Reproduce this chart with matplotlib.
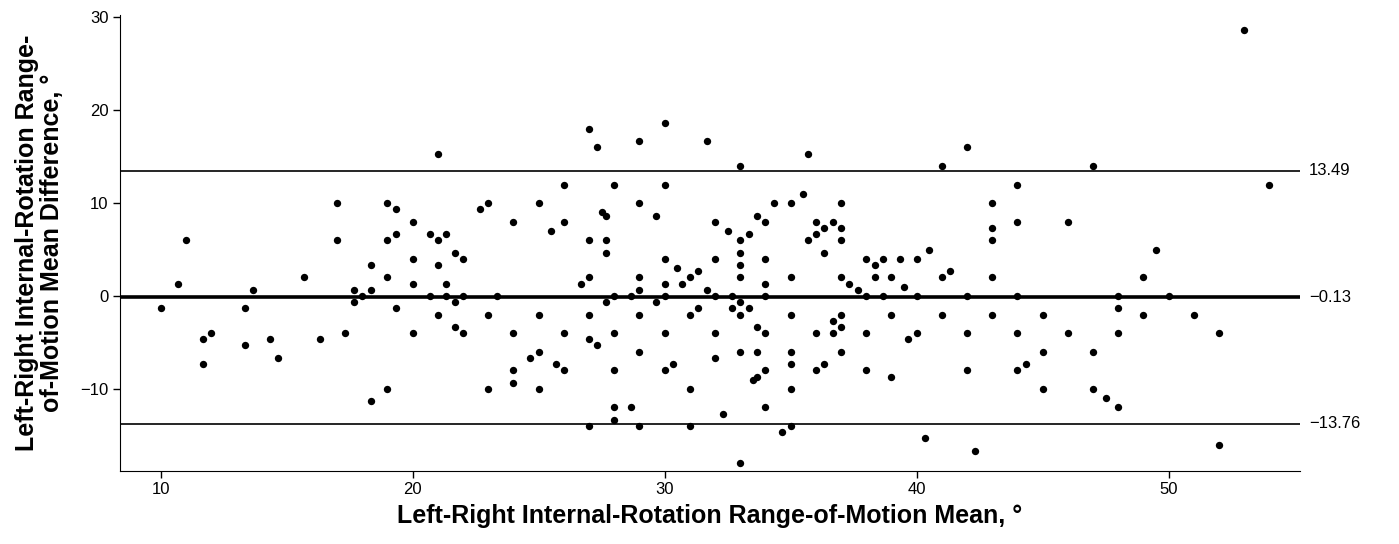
import numpy as np
import matplotlib
matplotlib.use("Agg")
import matplotlib.pyplot as plt

plt.rcParams['font.family'] = ['Liberation Sans', 'DejaVu Sans']

# Bland-Altman data: mean of left/right vs difference (degrees)
mean_rom = [
    10, 10.67, 11, 13.33, 13.67, 15.67, 11.67, 12, 11.67, 13.33, 14.33, 14.67, 16.33,
    21, 17, 19, 19.33, 20, 22.67, 23, 24, 17, 19, 19.33, 20.67, 21, 21.33,
    21.67, 22, 20, 21, 18.33, 19, 20, 21.33, 17.67, 18.33, 18, 17.67, 20.67, 21.33,
    22, 23.33, 21.67, 19.33, 21, 23, 21.67, 22, 17.33, 20, 24, 24, 24, 19, 23, 18.33,
    27, 30, 27.33, 29, 31.67, 26, 28, 30, 25, 29, 27.5, 27.67, 29.67, 26, 32, 25.5,
    27, 27.67,
    27.67, 30, 30.5, 31.33, 32, 31, 27, 26.67, 29, 29, 30, 30.67, 31.67, 28, 28.67,
    30, 32, 27.67, 29.67, 25, 27, 29, 31, 31.33, 26, 28, 30, 32, 27, 27.33, 25,
    24.67, 29, 32, 25.67, 26, 28, 30, 30.33, 25, 31, 28, 28.67, 28, 27, 29, 31,
    35.67, 33, 35.5, 34.33, 35, 37, 33.67, 34, 36, 36.67, 36.33, 37, 32.5, 33,
    33.33, 35.67, 36, 37,
    33, 33, 33, 34, 34, 35, 36.33, 37, 37.33, 37.67, 38, 38.33, 38.67, 39.33, 40,
    38.33, 39, 39.5, 32.67, 34, 38, 38.67, 40, 32.67, 33, 33.33, 33, 35, 37, 36.67,
    39, 33.67, 34, 36, 36.67, 37, 38, 40, 39.67, 33, 33.67, 35, 37, 35, 36.33, 36,
    34, 33.5, 33.67, 38, 39, 35, 34, 32.33, 35, 34.67, 33,
    42, 41, 47, 44, 43, 44, 46, 43, 43,
    40.5, 41.33, 41, 43, 42, 44, 48, 41, 43, 45, 48, 42, 44, 46, 48, 45, 47, 42,
    44, 44.33, 45, 47, 47.5, 48, 40.33, 42.33,
    53, 54, 49.5, 49, 50, 49, 51, 52, 52,
]
diff_rom = [
    -1.33, 1.33, 6, -1.33, 0.67, 2, -4.67, -4, -7.33, -5.33, -4.67, -6.67, -4.67,
    15.33, 10, 10, 9.33, 8, 9.33, 10, 8, 6, 6, 6.67, 6.67, 6, 6.67,
    4.67, 4, 4, 3.33, 3.33, 2, 1.33, 1.33, 0.67, 0.67, 0, -0.67, 0, 0,
    0, 0, -0.67, -1.33, -2, -2, -3.33, -4, -4, -4, -4, -8, -9.33, -10, -10, -11.33,
    18, 18.67, 16, 16.67, 16.67, 12, 12, 12, 10, 10, 9, 8.67, 8.67, 8, 8, 7,
    6, 6,
    4.67, 4, 3, 2.67, 4, 2, 2, 1.33, 2, 0.67, 1.33, 1.33, 0.67, 0, 0,
    0, 0, -0.67, -0.67, -2, -2, -2, -2, -1.33, -4, -4, -4, -4, -4.67, -5.33, -6,
    -6.67, -6, -6.67, -7.33, -8, -8, -8, -7.33, -10, -10, -12, -12, -13.33, -14, -14, -14,
    15.33, 14, 11, 10, 10, 10, 8.67, 8, 8, 8, 7.33, 7.33, 7, 6,
    6.67, 6, 6.67, 6,
    4.67, 3.33, 2, 4, 1.33, 2, 4.67, 2, 1.33, 0.67, 4, 3.33, 4, 4, 4,
    2, 2, 1, 0, 0, 0, 0, 0, -1.33, -0.67, -1.33, -2, -2, -2, -2.67,
    -2, -3.33, -4, -4, -4, -3.33, -4, -4, -4.67, -6, -6, -6, -6, -7.33, -7.33, -8,
    -8, -9, -8.67, -8, -8.67, -10, -12, -12.67, -14, -14.67, -18,
    16, 14, 14, 12, 10, 8, 8, 7.33, 6,
    5, 2.67, 2, 2, 0, 0, 0, -2, -2, -2, -1.33, -4, -4, -4, -4, -6, -6, -8,
    -8, -7.33, -10, -10, -11, -12, -15.33, -16.67,
    28.67, 12, 5, 2, 0, -2, -2, -4, -16,
]

bias = -0.13
upper_loa = 13.49
lower_loa = -13.76

fig = plt.figure(figsize=(13.99, 5.44), dpi=100)
ax = fig.add_axes([0.086, 0.135, 0.843, 0.838])

ax.scatter(mean_rom, diff_rom, s=28, color='black', zorder=3, linewidths=0)

ax.axhline(bias, color='black', lw=2.6, zorder=2)
ax.axhline(upper_loa, color='black', lw=1.2, zorder=2)
ax.axhline(lower_loa, color='black', lw=1.2, zorder=2)

for val, txt in [(upper_loa, '13.49'), (bias, '\u22120.13'), (lower_loa, '\u221213.76')]:
    ax.text(1.008, val, txt, transform=ax.get_yaxis_transform(),
            ha='left', va='center', fontsize=12)

ax.set_xlim(8.4, 55.2)
ax.set_ylim(-18.8, 30.3)
ax.set_xticks([10, 20, 30, 40, 50])
ax.set_yticks([-10, 0, 10, 20, 30])
ax.set_yticklabels(['\u221210', '0', '10', '20', '30'])
ax.tick_params(labelsize=12, length=5, width=1)

ax.spines['top'].set_visible(False)
ax.spines['right'].set_visible(False)

ax.set_xlabel('Left-Right Internal-Rotation Range-of-Motion Mean, \u00b0',
              fontsize=18, fontweight='bold', labelpad=5)
ax.set_ylabel('Left-Right Internal-Rotation Range-\nof-Motion Mean Difference, \u00b0',
              fontsize=18, fontweight='bold', labelpad=12, linespacing=1.05)

fig.savefig('out.png', dpi=100)
